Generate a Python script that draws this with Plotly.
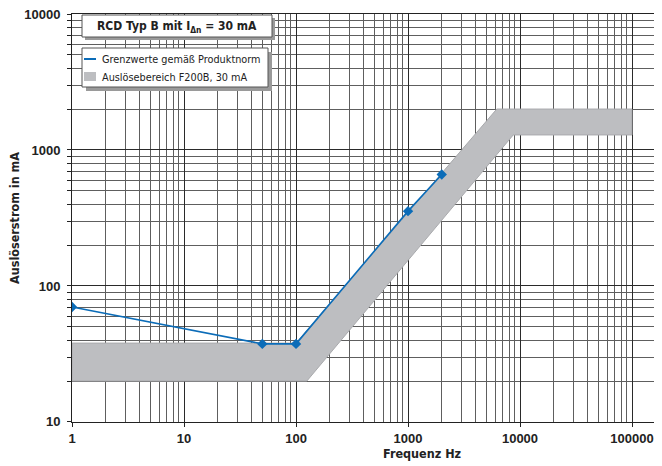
import plotly.graph_objects as go

# ---- data ----
freq_norm = [1, 50, 100, 1000, 2000]          # Hz
i_norm = [70, 37.5, 37.5, 355, 660]            # mA  (Grenzwerte gemäß Produktnorm)

band_upper_f = [1, 100, 6200, 100000]
band_upper_i = [38, 38, 2000, 2000]
band_lower_f = [1, 125, 8700, 100000]
band_lower_i = [20, 20, 1290, 1290]

x_ticks = [1, 10, 100, 1000, 10000, 100000]
x_ticktext = ["1", "10", "100", "1000", "10000", "100000"]
y_ticks = [10, 100, 1000, 10000]
y_ticktext = ["10", "100", "1000", "10000"]

label_line = "Grenzwerte gemäß Produktnorm"
label_band = "Auslösebereich F200B, 30 mA"
title_text = "RCD Typ B mit I<sub>Δn</sub> = 30 mA"

# ---- page geometry (page body has an 8px default margin) ----
OFF = 8
SCREEN_W, SCREEN_H = 662, 466
W, H = SCREEN_W - OFF, SCREEN_H - OFF
PLOT_L, PLOT_T, PLOT_B = 72, 14, 422          # on-screen pixels
L, T, R = PLOT_L - OFF, PLOT_T - OFF, 0
B = H - (PLOT_B - OFF)
PW, PH = W - L - R, H - T - B

def px(x):
    return (x - PLOT_L) / PW

def py(y):
    return (PLOT_B - y) / PH

x_minor = [m * 10 ** d for d in range(0, 5) for m in range(2, 10)]
y_minor = [m * 10 ** d for d in range(1, 4) for m in range(2, 10)]

band_x = band_upper_f + band_lower_f[::-1] + [band_upper_f[0]]
band_y = band_upper_i + band_lower_i[::-1] + [band_upper_i[0]]

BLUE = "#0b6cb8"
GRAY_FILL = "#bdbec1"

fig = go.Figure()
fig.add_trace(go.Scatter(
    x=band_x, y=band_y, mode="lines", fill="toself",
    fillcolor=GRAY_FILL, line=dict(color="#a9aaad", width=1),
    name=label_band, showlegend=False, hoverinfo="skip"))
fig.add_trace(go.Scatter(
    x=freq_norm, y=i_norm, mode="lines+markers",
    line=dict(color=BLUE, width=1.6),
    marker=dict(symbol="diamond", size=8, color=BLUE),
    name=label_line, showlegend=False))

axis_font = dict(family="Liberation Sans, Arial, sans-serif", size=13, color="#222")
fig.update_xaxes(
    type="log", range=[-0.0005, PW / 112.0], tickmode="array",
    tickvals=x_ticks, ticktext=[f"<b>{t}</b>" for t in x_ticktext],
    tickfont=axis_font, ticks="outside", ticklen=4, tickcolor="#222",
    ticklabelstandoff=0, ticklabeloverflow="allow",
    showline=True, linecolor="#222", linewidth=1, mirror=True,
    showgrid=True, gridcolor="#2a2a2a", gridwidth=1,
    minor=dict(tickvals=x_minor, showgrid=True, gridcolor="#5e5e5e",
               gridwidth=1, ticks=""),
    zeroline=False)
fig.update_yaxes(
    type="log", range=[0.9995, 4.0], tickmode="array",
    tickvals=y_ticks, ticktext=[f"<b>{t}</b>" for t in y_ticktext],
    tickfont=axis_font, ticks="outside", ticklen=4, tickcolor="#222",
    ticklabelstandoff=4, ticklabeloverflow="allow",
    showline=True, linecolor="#222", linewidth=1,
    showgrid=True, gridcolor="#2a2a2a", gridwidth=1,
    minor=dict(tickvals=y_minor, showgrid=True, gridcolor="#5e5e5e",
               gridwidth=1, ticks="outside", ticklen=4, tickcolor="#222"),
    zeroline=False)

shapes = []
annotations = []
narrow = "DejaVu Sans Condensed, Liberation Sans Narrow, Arial Narrow, sans-serif"

def box(x0, y0, x1, y1, shadow=4):
    shapes.append(dict(type="rect", xref="paper", yref="paper", layer="above",
                       x0=px(x0 + shadow), x1=px(x1 + shadow),
                       y0=py(y1 + shadow), y1=py(y0 + shadow),
                       fillcolor="#9a9a9a", line=dict(width=0)))
    shapes.append(dict(type="rect", xref="paper", yref="paper", layer="above",
                       x0=px(x0), x1=px(x1), y0=py(y1), y1=py(y0),
                       fillcolor="white", line=dict(color="#555", width=1)))

# title box
box(82, 15, 272, 37, shadow=3)
annotations.append(dict(xref="paper", yref="paper", x=px(177), y=py(26.5),
                        text=f"<b>{title_text}</b>", showarrow=False,
                        xanchor="center", yanchor="middle",
                        font=dict(family=narrow, size=12, color="#222")))

# legend box
box(82, 48, 268, 87, shadow=4)
shapes.append(dict(type="line", xref="paper", yref="paper", layer="above",
                   x0=px(84), x1=px(96), y0=py(59), y1=py(59),
                   line=dict(color=BLUE, width=2)))
shapes.append(dict(type="rect", xref="paper", yref="paper", layer="above",
                   x0=px(84), x1=px(96), y0=py(81), y1=py(72),
                   fillcolor=GRAY_FILL, line=dict(width=0)))
annotations.append(dict(xref="paper", yref="paper", x=px(100), y=py(59),
                        text=label_line, showarrow=False, xanchor="left",
                        yanchor="middle",
                        font=dict(family=narrow, size=10.8, color="#222")))
annotations.append(dict(xref="paper", yref="paper", x=px(100), y=py(77),
                        text=label_band, showarrow=False, xanchor="left",
                        yanchor="middle",
                        font=dict(family=narrow, size=10.8, color="#222")))

# axis titles
annotations.append(dict(xref="paper", yref="paper", x=px(422), y=py(453),
                        text="<b>Frequenz Hz</b>", showarrow=False,
                        xanchor="center", yanchor="middle",
                        font=dict(family=narrow, size=12.5, color="#222")))
annotations.append(dict(xref="paper", yref="paper", x=px(14), y=py(218),
                        text="<b>Auslöserstrom in mA</b>", showarrow=False,
                        textangle=-90, xanchor="center", yanchor="middle",
                        font=dict(family=narrow, size=12.5, color="#222")))

fig.update_layout(
    width=W, height=H,
    margin=dict(l=L, r=R, t=T, b=B, autoexpand=False),
    paper_bgcolor="white", plot_bgcolor="white",
    showlegend=False, shapes=shapes, annotations=annotations)

fig.write_html("out.html")
